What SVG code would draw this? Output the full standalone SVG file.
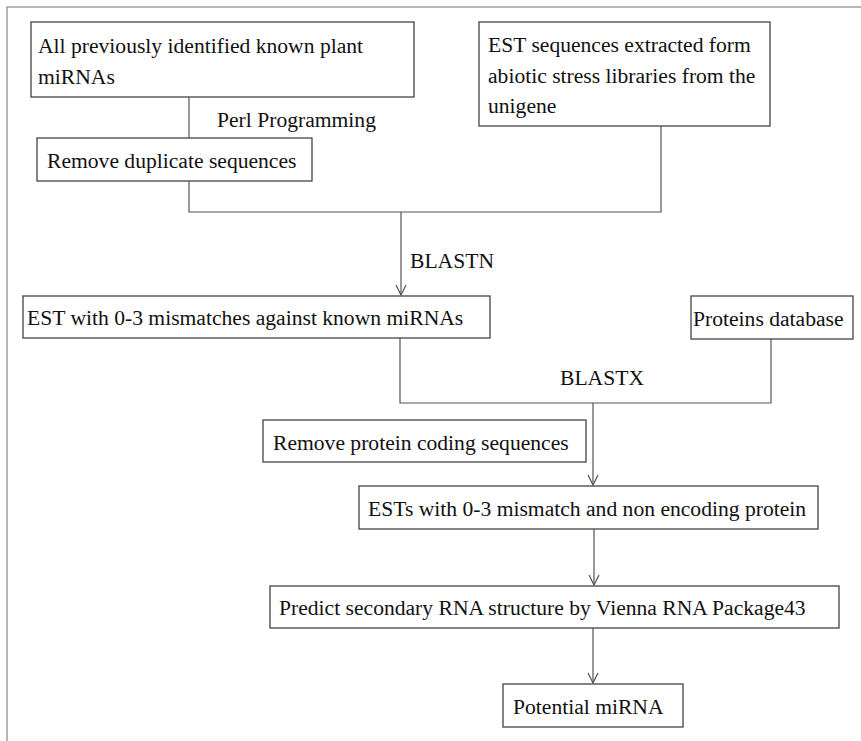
<svg xmlns="http://www.w3.org/2000/svg" width="861" height="741" viewBox="0 0 861 741">
<style>
.frame{fill:none;stroke:#a0a0a0;stroke-width:1.5}
.box{fill:#fff;stroke:#444;stroke-width:1.3}
.t{font-family:'Liberation Serif','Times New Roman',serif;font-size:21.6px;fill:#111}
.c{fill:none;stroke:#555;stroke-width:1.2}
</style>
<defs>
<marker id="arr" markerUnits="userSpaceOnUse" viewBox="0 0 12 12" refX="11" refY="6" markerWidth="12" markerHeight="12" orient="auto">
<path d="M1,1 L11,6 L1,11" fill="none" stroke="#555" stroke-width="1.2"/>
</marker>
</defs>
<rect width="861" height="741" fill="#fff"/>
<path class="frame" d="M7,741 L7,7 L861,7"/>
<g id="connectors">
<path class="c" d="M189,97 L189,138"/>
<path class="c" d="M189,181 L189,212 L661,212 L661,126"/>
<path class="c" d="M401,212 L401,295" marker-end="url(#arr)"/>
<path class="c" d="M400,338 L400,403 L771,403 L771,339"/>
<path class="c" d="M593,403 L593,485" marker-end="url(#arr)"/>
<path class="c" d="M594,529 L594,585" marker-end="url(#arr)"/>
<path class="c" d="M593,628 L593,683" marker-end="url(#arr)"/>
<text class="t" font-family="Liberation Serif, serif" x="217" y="127">Perl Programming</text>
<text class="t" font-family="Liberation Serif, serif" x="410" y="268">BLASTN</text>
<text class="t" font-family="Liberation Serif, serif" x="560" y="385">BLASTX</text>
</g>
<g id="known-mirnas">
<rect class="box" x="31" y="22" width="383" height="75"/>
<text class="t" x="38" y="53">All previously identified known plant</text>
<text class="t" x="38" y="84">miRNAs</text>
</g>
<g id="est-sequences">
<rect class="box" x="479" y="22" width="291" height="104"/>
<text class="t" x="488" y="52">EST sequences extracted form</text>
<text class="t" x="488" y="83">abiotic stress libraries from  the</text>
<text class="t" x="488" y="113">unigene</text>
</g>
<g id="remove-duplicates">
<rect class="box" x="37" y="138" width="275" height="43"/>
<text class="t" x="47" y="168">Remove duplicate sequences</text>
</g>
<g id="est-mismatches">
<rect class="box" x="23" y="296" width="467" height="42"/>
<text class="t" x="27" y="325">EST with 0-3 mismatches against  known miRNAs</text>
</g>
<g id="proteins-database">
<rect class="box" x="691" y="296" width="162" height="43"/>
<text class="t" x="693" y="326">Proteins database</text>
</g>
<g id="remove-protein-coding">
<rect class="box" x="263" y="420" width="323" height="42"/>
<text class="t" x="273" y="450">Remove protein coding sequences</text>
</g>
<g id="ests-noncoding">
<rect class="box" x="359" y="486" width="459" height="43"/>
<text class="t" x="368" y="516">ESTs with 0-3 mismatch and non encoding protein</text>
</g>
<g id="predict-structure">
<rect class="box" x="270" y="586" width="569" height="42"/>
<text class="t" x="279" y="615">Predict secondary RNA structure by Vienna RNA Package43</text>
</g>
<g id="potential-mirna">
<rect class="box" x="503" y="684" width="180" height="43"/>
<text class="t" x="513" y="714">Potential miRNA</text>
</g>
</svg>
